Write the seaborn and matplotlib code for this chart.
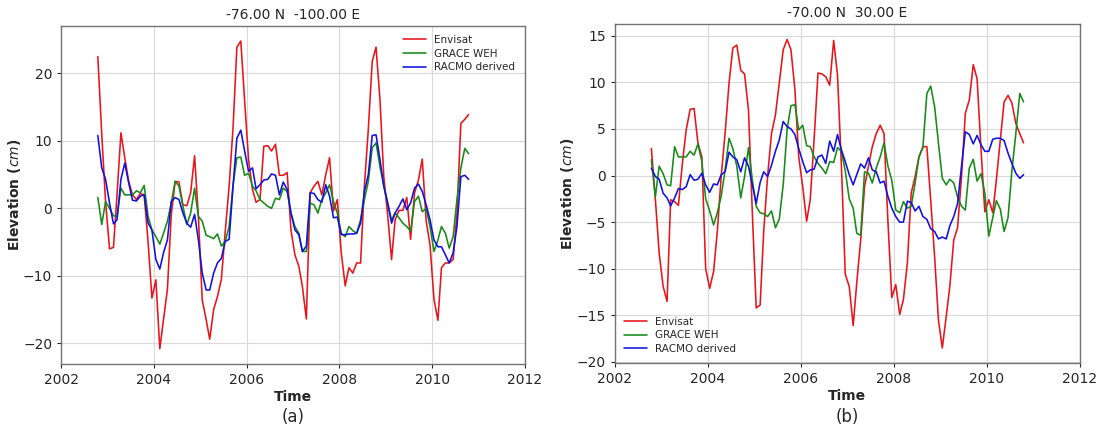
import numpy as np
import pandas as pd
import matplotlib
matplotlib.use("Agg")
import matplotlib.pyplot as plt
import seaborn as sns

# Monthly sampling, mid-month, Oct 2002 .. Oct 2010
dates = pd.date_range("2002-10-01", periods=97, freq="MS") + pd.Timedelta(days=15)
years = (dates.year + (dates.dayofyear - 1) / 365.25).to_numpy()

# ---- Site (a): -76.00 N  -100.00 E  (cm) ----
envisat_a = [22.5, 11.0, 1.0, -6.0, -5.8, 2.0, 11.2, 7.5, 4.0, 2.0, 1.3, 2.2, 2.0,
             -5.0, -13.3, -10.6, -20.8, -16.5, -12.0, -1.0, 4.0, 3.9, 0.5, 0.4, 2.3,
             7.8, -1.2, -13.6, -16.5, -19.4, -15.0, -13.1, -10.5, -3.5, 3.3, 12.0, 23.9,
             24.8, 16.0, 7.2, 2.8, 0.9, 1.3, 9.2, 9.3, 8.5, 9.5, 4.9, 4.9, 5.3, -3.2,
             -6.9, -8.6, -11.6, -16.4, 2.3, 3.3, 4.0, 2.0, 5.0, 7.5, -0.4, 1.3, -6.6,
             -11.5, -8.8, -9.6, -8.1, -8.1, 3.3, 11.7, 21.8, 23.9, 16.1, 4.7, -0.9, -7.6,
             -1.7, -0.3, -0.3, 1.6, -4.6, 2.3, 4.2, 7.3, -1.9, -5.4, -13.5, -16.6, -8.8,
             -8.1, -8.1, -7.6, -0.7, 12.6, 13.2, 13.9]
grace_a = [1.6, -2.4, 1.0, 0.0, -1.1, -1.2, 3.0, 2.0, 2.0, 2.0, 2.6, 2.3, 3.4,
           -1.2, -3.2, -4.2, -5.3, -3.7, -1.9, 0.8, 4.0, 3.3, 0.3, -2.4, -0.7,
           3.0, -1.2, -1.9, -4.0, -4.2, -4.5, -3.8, -5.6, -4.9, -2.7, 3.5, 7.5,
           7.6, 4.9, 5.2, 3.3, 2.6, 1.3, 0.8, 0.3, 0.0, 1.5, 1.3, 3.0, 2.5, -0.7,
           -2.7, -3.7, -6.4, -6.4, 0.8, 0.5, -0.7, 1.3, 2.3, 3.5, 1.0, -0.7, -3.7,
           -4.2, -2.7, -3.3, -3.7, -1.7, 1.3, 4.0, 9.0, 9.7, 6.2, 3.3, 0.8, -1.7,
           -0.7, -1.4, -2.2, -2.7, -3.4, 1.0, 1.8, -0.5, 0.0, -2.7, -6.4, -4.7, -2.7,
           -3.7, -5.9, -4.2, 1.3, 6.0, 8.9, 8.1]
racmo_a = [10.8, 6.0, 4.3, 0.8, -2.3, -1.7, 4.3, 6.7, 3.8, 1.2, 1.1, 1.8, 2.0,
           -2.2, -3.2, -7.6, -9.0, -6.6, -4.7, 1.0, 1.6, 1.3, -0.7, -2.2, -2.8,
           -0.9, -4.7, -9.6, -12.1, -12.1, -9.6, -8.1, -7.4, -4.9, -4.6, 3.3, 10.4,
           11.6, 8.5, 5.5, 6.0, 2.9, 3.5, 4.2, 4.3, 5.1, 4.9, 2.0, 3.9, 2.8, -0.7,
           -3.2, -3.9, -6.4, -5.6, 2.3, 2.2, 1.3, 0.9, 3.5, 1.8, -1.4, -1.3, -3.9,
           -3.9, -3.8, -3.8, -3.7, -2.2, 2.5, 5.0, 10.8, 10.9, 7.2, 3.3, 0.8, -2.2,
           -0.7, 0.3, 1.4, -0.2, 0.8, 3.0, 3.6, 2.5, 0.5, -1.7, -4.7, -5.7, -5.7,
           -6.9, -8.1, -6.6, -2.7, 4.7, 4.9, 4.3]

# ---- Site (b): -70.00 N  30.00 E  (cm) ----
envisat_b = [2.9, -2.5, -8.3, -11.9, -13.5, -2.6, -2.8, -3.2, 1.3, 4.9, 7.1, 7.2, 3.5,
             2.0, -10.0, -12.1, -10.3, -6.0, 0.0, 4.5, 9.9, 13.7, 14.0, 11.3, 10.9,
             7.0, -4.0, -14.2, -13.9, -6.0, 0.0, 4.5, 6.5, 9.9, 13.5, 14.6, 13.5,
             9.2, 2.0, -1.2, -4.9, -2.6, 4.0, 11.0, 10.9, 10.6, 9.7, 14.5, 10.8, 1.0,
             -10.6, -11.9, -16.1, -11.5, -6.9, -1.2, 1.0, 3.1, 4.5, 5.4, 4.5, -5.0,
             -13.1, -11.7, -14.9, -13.3, -9.4, -1.9, -0.1, 2.0, 3.1, 3.1, -2.6, -8.7,
             -15.5, -18.5, -15.1, -11.9, -6.9, -5.6, -0.1, 6.7, 8.1, 11.9, 10.4, 2.8,
             -3.9, -2.6, -4.0, -0.5, 3.8, 7.9, 8.6, 7.8, 5.6, 4.5, 3.5]
grace_b = [1.7, -2.3, 1.0, 0.2, -1.0, -1.1, 3.1, 2.0, 2.0, 2.0, 2.6, 2.2, 3.4,
           1.5, -2.5, -3.8, -5.3, -4.0, -2.2, 0.6, 4.0, 2.9, 1.0, -2.4, -0.1,
           3.0, -0.5, -3.3, -4.0, -4.1, -4.4, -3.8, -5.6, -4.7, -1.0, 5.0, 7.5,
           7.6, 4.9, 5.4, 3.2, 3.1, 2.0, 1.3, 0.8, 0.2, 1.5, 1.4, 3.0, 2.6, 0.5,
           -2.5, -3.5, -6.2, -6.4, 0.4, 0.25, -0.8, 0.8, 2.0, 3.5, 1.0, -0.5, -3.7,
           -4.0, -2.8, -3.5, -3.3, -0.8, 2.0, 3.0, 8.8, 9.6, 7.4, 3.5, -0.3, -1.0,
           -0.4, -0.8, -2.3, -3.3, -3.7, 0.8, 1.75, -0.6, 0.2, -1.9, -6.5, -4.5, -2.7,
           -3.6, -6.0, -4.5, 0.5, 4.5, 8.8, 7.9]
racmo_b = [0.8, -0.1, -0.4, -1.9, -2.4, -3.25, -2.4, -1.4, -1.5, -1.2, 0.1, -0.5, -0.4,
           0.25, -1.0, -1.8, -0.9, -1.0, 0.1, 0.4, 2.5, 2.0, 1.7, 0.4, 1.9,
           1.0, -1.0, -3.0, -0.75, 0.4, -0.1, 1.1, 2.6, 3.8, 5.8, 5.25, 5.0,
           4.4, 2.9, 1.5, 0.3, 0.6, 0.7, 2.0, 2.2, 1.3, 3.7, 2.6, 4.4, 2.75, 1.5,
           0.1, -1.0, 0.1, 1.25, 0.8, 1.9, 0.6, 0.4, -0.8, -0.6, -2.25, -3.5, -4.4,
           -5.0, -5.0, -2.75, -2.9, -3.8, -3.3, -4.4, -4.7, -5.7, -6.0, -6.8, -6.6, -6.8,
           -5.4, -4.4, -3.0, 1.0, 4.7, 4.4, 3.4, 4.3, 3.3, 2.6, 2.6, 3.9, 4.0,
           4.0, 3.75, 2.4, 1.3, 0.25, -0.3, 0.1]

series_names = ["Envisat", "GRACE WEH", "RACMO derived"]
series_colors = ["#e8141b", "#178a17", "#1010e0"]
titles = ["-76.00 N  -100.00 E", "-70.00 N  30.00 E"]
panel_tags = ["(a)", "(b)"]
legend_locs = ["upper right", "lower left"]
year_ticks = [2002, 2004, 2006, 2008, 2010, 2012]

sns.set_style("whitegrid", {
    "axes.edgecolor": "0.45",
    "grid.color": "0.85",
    "xtick.bottom": True,
    "ytick.left": True,
    "xtick.color": "0.15",
    "ytick.color": "0.15",
})
plt.rcParams["font.family"] = ["DejaVu Sans"]
plt.rcParams["axes.linewidth"] = 1.0

fig = plt.figure(figsize=(11.02, 4.30), dpi=100)
axes = [fig.add_axes([0.0556, 0.1535, 0.4206, 0.7867]),
        fig.add_axes([0.5578, 0.1550, 0.4222, 0.7890])]

panels = [(envisat_a, grace_a, racmo_a), (envisat_b, grace_b, racmo_b)]

for k, ax in enumerate(axes):
    for vals, name, col in zip(panels[k], series_names, series_colors):
        df = pd.DataFrame({"Time": years, "Elevation": vals})
        sns.lineplot(data=df, x="Time", y="Elevation", ax=ax, color=col,
                     linewidth=1.15, label=name)
    ax.set_xlim(2002, 2012)
    ax.set_xticks(year_ticks)
    ax.tick_params(axis="both", labelsize=10, length=3, width=0.8)
    ax.set_title(titles[k], fontsize=10, pad=5)
    ax.set_xlabel("Time", fontsize=10, fontweight="bold", labelpad=2)
    ax.set_ylabel("Elevation ($cm$)", fontsize=10, fontweight="bold", labelpad=0)
    ax.legend(loc=legend_locs[k], frameon=False, fontsize=7.5,
              handlelength=2.2, labelspacing=0.35)
    for s in ax.spines.values():
        s.set_visible(True)
    pos = ax.get_position()
    fig.text((pos.x0 + pos.x1) / 2, 0.03, panel_tags[k], ha="center", va="center",
             fontsize=12)

fig.savefig("out.png", dpi=100)
